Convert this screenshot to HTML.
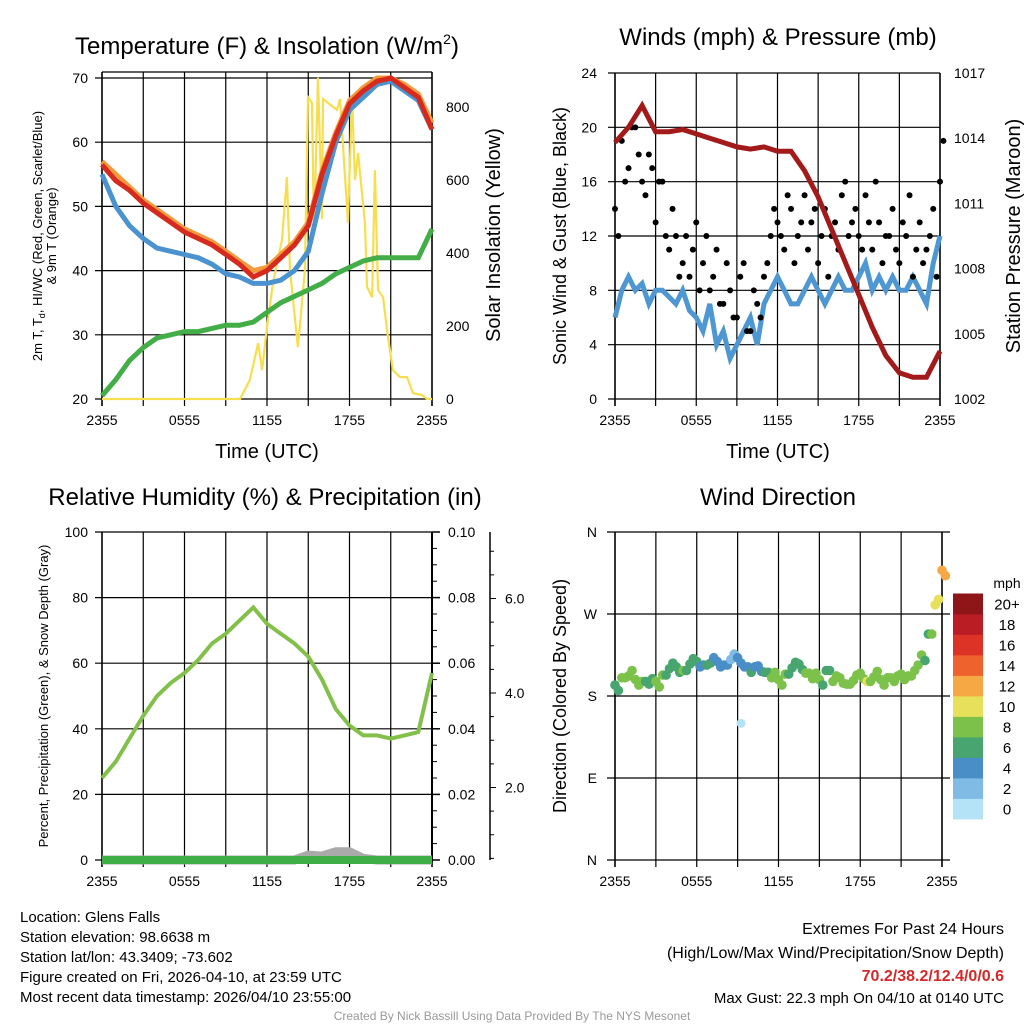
<!DOCTYPE html>
<html><head><meta charset="utf-8"><style>
body{margin:0;background:#fff;}
svg{display:block;font-family:"Liberation Sans",sans-serif;}
</style></head><body>
<svg id="s" width="1024" height="1024" viewBox="0 0 1024 1024"></svg>
<script>
// ---------- data ----------
const xTickLabels=["2355","0555","1155","1755","2355"];
const tempT=[56.5,54,52.5,50.5,49,47.5,46,45,44,42.5,41,39,40,42,44,47,55,61,66,68,69.5,70,68.5,67,62];
const temp9m=[57,55,53,51,49.5,48,46.5,45.5,44.5,43,41.5,40,40.5,42.5,44.5,47.5,55.5,61.5,66.5,68.5,70,70,69,67.5,63];
const tempWC=[55,50,47,45,43.5,43,42.5,42,41,39.5,39,38,38,38.5,40,43,52,60,65,67,69,69.5,68,66.5,62];
const tempTd=[20.5,23,26,28,29.5,30,30.5,30.5,31,31.5,31.5,32,33.5,35,36,37,38,39.5,40.5,41.5,42,42,42,42,46.5];
const solarHours=[0,10.04,10.76,11.35,11.64,12.0,12.44,13.09,13.45,13.67,14.25,14.76,14.98,15.27,15.42,15.71,16.0,16.07,16.44,17.09,17.31,17.89,18.18,18.4,18.62,19.13,19.27,19.64,19.85,20.07,20.44,20.73,21.16,21.67,22.18,22.62,23.27,23.64,24];
const solarVals=[0,0,52,153,79,197,318,436,608,353,142,353,827,811,455,880,493,822,811,792,822,482,827,600,674,482,307,279,627,299,279,189,79,60,60,16,11,0,0];
const windS=[6,8,9,8,8.5,7,8,8,7.5,7,8,6.5,6,5,7,4,5,3,4,5,6,4,7,8,9,8,7,7,8,9,8,7,8,9,8,8,9,10,8,9,8,9,8,8,9,8,7,10,12];
const gustA=[14,19,17,20,16,18,13,16,11,12,10,9,13,10,8,11,7,8,6,10,5,7,9,12,13,11,14,12,15,13,10,14,12,11,16,13,12,15,11,13,12,14,10,12,9,13,11,14,16];
const gustB=[12,16,20,18,15,17,16,12,14,9,12,11,8,12,9,7,10,6,9,5,8,6,10,14,12,15,10,13,11,14,12,9,13,15,12,14,11,13,16,10,12,11,13,15,11,10,12,9,19];
const pressure=[1013.8,1014.5,1015.5,1014.3,1014.3,1014.4,1014.2,1014,1013.8,1013.6,1013.5,1013.6,1013.4,1013.4,1012.5,1011.3,1009.8,1008.3,1006.8,1005.3,1004,1003.2,1003,1003,1004.2];
const rh=[25,30,37,44,50,54,57,61,66,69,73,77,72,69,66,62,55,46,41,38,38,37,38,39,57];
const precip=[0,0,0,0,0,0,0,0,0,0,0,0,0,0,0,0,0,0,0,0,0,0,0,0,0];
const snow=[0,0,0,0,0,0,0,0,0,0,0,0,0,0,0,1.5,1.2,2.5,2.5,0.5,0,0,0,0,0];
const dirVals=[192,200,202,198,196,193,196,203,210,212,208,215,218,214,216,218,214,220,222,212,206,213,206,200,198,204,211,215,205,199,198,208,196,200,193,197,205,196,201,198,200,196,204,202,208,225,248,280,318];
const binLabels=["0","2","4","6","8","10","12","14","16","18","20+"];
const binColors=["#b4e3f8","#7fbbe5","#4a8ec7","#48a56f","#7cc24a","#e7e05a","#f5a843","#ee622e","#dd3327","#bb1d24","#8e1518"];
// ---------- helpers ----------
const S=document.getElementById('s');const NS='http://www.w3.org/2000/svg';
function mk(tag,a,parent){const e=document.createElementNS(NS,tag);for(const k in a)e.setAttribute(k,a[k]);(parent||S).appendChild(e);return e;}
function txt(x,y,t,size,anchor,extra){const e=mk('text',Object.assign({x:x,y:y,'font-size':size,'text-anchor':anchor||'middle',fill:'#000'},extra||{}));e.textContent=t;return e;}
function sc(d0,d1,r0,r1){return v=>r0+(v-d0)/(d1-d0)*(r1-r0);}
function pathFrom(xs,ys){return xs.map((x,i)=>(i?'L':'M')+x.toFixed(1)+' '+ys[i].toFixed(1)).join(' ');}
function frame(x0,x1,y0,y1,name,hvals,ys){
  const g=mk('g',{});
  
  
  for(let i=0;i<=8;i++){const x=x0+(x1-x0)*i/8;mk('line',{x1:x,x2:x,y1:y0,y2:y1+7,stroke:(i==0||i==8)?'#333':'#000','stroke-width':(i==0||i==8)?2:1.2},g);}
  hvals.forEach(v=>{const y=ys(v);mk('line',{x1:x0-7,x2:x1,y1:y,y2:y,stroke:'#000','stroke-width':1.2},g);});
  xTickLabels.forEach((t,i)=>{const l=txt(x0+(x1-x0)*i/4,y1+26,t,14);});
}
// ---------- Panel 1: temperature ----------
{const x0=102,x1=432;const xs=sc(0,24,x0,x1);const yT=sc(20,70,399,78);const yS=sc(0,800,399,107);
 frame(x0,x1,72,399,'temp',[20,30,40,50,60,70],yT);
 mk('line',{x1:x0,x2:x1,y1:72,y2:72,stroke:'#000','stroke-width':1.2});
 [20,30,40,50,60,70].forEach(v=>{const t=txt(88,yT(v)+5,String(v),14,'end');});
 [0,200,400,600,800].forEach(v=>{const t=txt(446,yS(v)+5,String(v),14,'start');});
 const hx=tempT.map((_,i)=>xs(i));
 const ps=mk('path',{d:pathFrom(solarHours.map(xs),solarVals.map(yS)),fill:'none',stroke:'#f6de4e','stroke-width':2.2});
 
 const pd=mk('path',{d:pathFrom(hx,tempTd.map(yT)),fill:'none',stroke:'#43ad47','stroke-width':5});
 
 const pw=mk('path',{d:pathFrom(hx,tempWC.map(yT)),fill:'none',stroke:'#4b93d0','stroke-width':5});
 
 const po=mk('path',{d:pathFrom(hx,temp9m.map(yT)),fill:'none',stroke:'#f39a3c','stroke-width':5});
 
 const pt=mk('path',{d:pathFrom(hx,tempT.map(yT)),fill:'none',stroke:'#d62a1e','stroke-width':5});
 
 const t1=txt(267,54,'Temperature (F) & Insolation (W/m',24);
 const sup=mk('tspan',{'font-size':14,dy:-10},t1);sup.textContent='2';const cl=mk('tspan',{dy:10},t1);cl.textContent=')';
 const xt=txt(267,458,'Time (UTC)',20);
 const yt=txt(0,0,'2m T, T',13,'middle',{transform:'translate(42,236) rotate(-90)'});
 const sb=mk('tspan',{'font-size':9,dy:3},yt);sb.textContent='d';const rest=mk('tspan',{dy:-3},yt);rest.textContent=', HI/WC (Red, Green, Scarlet/Blue)';
 const yt2=txt(0,0,'& 9m T (Orange)',13,'middle',{transform:'translate(56,236) rotate(-90)'});
 const rt=txt(0,0,'Solar Insolation (Yellow)',20,'middle',{transform:'translate(500,235) rotate(-90)'});
}
// ---------- Panel 2: winds ----------
{const x0=615,x1=940;const xs=sc(0,24,x0,x1);const yW=sc(0,24,399,73);const yP=sc(1002,1017,399,73);
 frame(x0,x1,73,399,'wind',[0,4,8,12,16,20,24],yW);
 [0,4,8,12,16,20,24].forEach(v=>{const t=txt(597,yW(v)+5,String(v),14,'end');});
 [1002,1005,1008,1011,1014,1017].forEach(v=>{const t=txt(954,yP(v)+5,String(v),14,'start');});
 const wx=windS.map((_,i)=>xs(i/2));
 const pw=mk('path',{d:pathFrom(wx,windS.map(yW)),fill:'none',stroke:'#4f97d2','stroke-width':5});
 
 gustA.forEach((g,i)=>{const c=mk('circle',{cx:xs(i/2),cy:yW(g),r:3,fill:'#000'});});
 gustB.forEach((g,i)=>{const c=mk('circle',{cx:xs(i/2+0.25),cy:yW(g),r:3,fill:'#000'});});
 const pp=mk('path',{d:pathFrom(pressure.map((_,i)=>xs(i)),pressure.map(yP)),fill:'none',stroke:'#a31a1a','stroke-width':5});
 
 const t=txt(778,45,'Winds (mph) & Pressure (mb)',24);
 const xt=txt(778,458,'Time (UTC)',20);
 const yt=txt(0,0,'Sonic Wind & Gust (Blue, Black)',18,'middle',{transform:'translate(566,236) rotate(-90)'});
 const rt=txt(0,0,'Station Pressure (Maroon)',20,'middle',{transform:'translate(1020,236) rotate(-90)'});
}
// ---------- Panel 3: RH ----------
{const x0=102,x1=432;const xs=sc(0,24,x0,x1);const yR=sc(0,100,860,532);const yPr=sc(0,0.1,860,532);
 frame(x0,x1,532,860,'rh',[0,20,40,60,80,100],yR);
 [0,20,40,60,80,100].forEach(v=>{const t=txt(88,yR(v)+5,String(v),14,'end');});
 const ax=mk('g',{});
 mk('line',{x1:432,x2:432,y1:532,y2:862,stroke:'#000','stroke-width':2},ax);
 for(let i=0;i<=20;i++){const y=yPr(i*0.005);mk('line',{x1:432,x2:i%4==0?440:437,y1:y,y2:y,stroke:'#000','stroke-width':i%4==0?1.5:1},ax);}
 ["0.00","0.02","0.04","0.06","0.08","0.10"].forEach((s,i)=>{const t=txt(448,yPr(i*0.02)+5,s,14,'start');});
 const ax2=mk('g',{});
 mk('line',{x1:490,x2:490,y1:532,y2:860,stroke:'#000','stroke-width':1.5},ax2);
 const ySn=sc(0,2,882,787.5);
 for(let i=1;i<=14;i++){const y=ySn(i*0.5);if(y<532)continue;mk('line',{x1:490,x2:i%4==0?496:494,y1:y,y2:y,stroke:'#000','stroke-width':1},ax2);}
 [2,4,6].forEach(v=>{const t=txt(505,ySn(v)+5,v.toFixed(1),14,'start');});
 const hx=rh.map((_,i)=>xs(i));
 const ps=mk('path',{d:pathFrom(hx,snow.map(v=>yR(v))),fill:'none',stroke:'#aaa','stroke-width':9});
 
 const pr=mk('path',{d:pathFrom(hx,precip.map(yPr)),fill:'none',stroke:'#3fae46','stroke-width':8});
 
 const pl=mk('path',{d:pathFrom(hx,rh.map(yR)),fill:'none',stroke:'#82c04a','stroke-width':4});
 
 const t=txt(265,505,'Relative Humidity (%) & Precipitation (in)',24);
 const yt=txt(0,0,'Percent, Precipitation (Green), & Snow Depth (Gray)',13,'middle',{transform:'translate(48,696) rotate(-90)'});
}
// ---------- Panel 4: direction ----------
{const x0=615,x1=942;const xs=sc(0,24,x0,x1);const yD=sc(0,360,860,532);
 frame(x0,x1,532,860,'dir',[],yD);
 [0,90,180,270,360].forEach(v=>{const y=yD(v);const l=mk('line',{x1:607,x2:950,y1:y,y2:y,stroke:'#000','stroke-width':1.2});});
 ["N","E","S","W","N"].forEach((s,i)=>{const t=txt(597,yD(i*90)+5,s,14,'end');});
 dirVals.forEach((d,i)=>{const b=Math.min(10,Math.floor(windS[i]/2));
   const c=mk('circle',{cx:xs(i/2),cy:yD(d),r:4.8,fill:binColors[b]});
   const b2=Math.min(10,Math.floor((windS[Math.min(48,i+1)]+windS[i])/4));
   const c2=mk('circle',{cx:xs(i/2+0.25),cy:yD(d+(i%3-1)*6),r:4.8,fill:binColors[b2]});});
 const o=mk('circle',{cx:xs(9.25),cy:yD(150),r:4.5,fill:binColors[0]});
 const cb=mk('g',{});
 binColors.forEach((c,i)=>{const y=819-(i+1)*20.5;mk('rect',{x:953,y:y,width:30,height:20.9,fill:c},cb);const t=txt(1007,y+16,binLabels[i],15);});
 const mu=txt(1007,588,'mph',14);
 const t=txt(778,505,'Wind Direction',24);
 const yt=txt(0,0,'Direction (Colored By Speed)',18,'middle',{transform:'translate(566,696) rotate(-90)'});
}
// ---------- footer ----------
["Location: Glens Falls","Station elevation: 98.6638 m","Station lat/lon: 43.3409; -73.602","Figure created on Fri, 2026-04-10, at 23:59 UTC","Most recent data timestamp: 2026/04/10 23:55:00"].forEach((s,i)=>{const t=txt(20,922+i*20,s,15,'start');});
{const a=txt(1004,934,'Extremes For Past 24 Hours',16,'end');
 const b=txt(1004,958,'(High/Low/Max Wind/Precipitation/Snow Depth)',16,'end');
 const c=txt(1004,981,'70.2/38.2/12.4/0/0.6',16,'end',{fill:'#d22a2a','font-weight':'bold'});
 const d=txt(1004,1003,'Max Gust: 22.3 mph On 04/10 at 0140 UTC',15,'end');
 const e=txt(512,1020,'Created By Nick Bassill Using Data Provided By The NYS Mesonet',12,'middle',{fill:'#999'});}
</script>
</body></html>
